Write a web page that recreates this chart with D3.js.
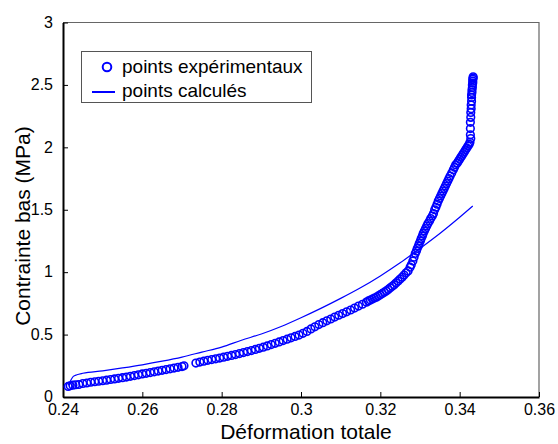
<!DOCTYPE html>
<html><head><meta charset="utf-8">
<script src="https://cdn.jsdelivr.net/npm/d3@7"></script>
<style>body{margin:0;background:#fff}svg{display:block}text{font-family:"Liberation Sans",Arial,sans-serif}</style>
</head><body>
<svg id="c" width="558" height="444"></svg>
<script>
// ---- data ----
const xTicks = [0.24, 0.26, 0.28, 0.30, 0.32, 0.34, 0.36];
const xTickLabels = ["0.24", "0.26", "0.28", "0.3", "0.32", "0.34", "0.36"];
const yTicks = [0, 0.5, 1, 1.5, 2, 2.5, 3];
const yTickLabels = ["0", "0.5", "1", "1.5", "2", "2.5", "3"];
const seriesNames = ["points expérimentaux", "points calculés"];
const xLabel = "Déformation totale";
const yLabel = "Contrainte bas (MPa)";

// experimental points (strain, stress)
const expX = [0.2413,0.2418,0.2425,0.2432,0.244,0.245,0.246,0.247,0.248,0.249,0.250,0.251,0.252,0.253,0.254,0.255,0.256,0.257,0.258,0.259,0.260,0.261,0.262,0.263,0.264,0.265,0.266,0.267,0.268,0.269,0.270,0.2705,
0.2735,0.2745,0.2755,0.2765,0.2775,0.2785,0.2795,0.2805,0.2815,0.2825,0.2835,0.2845,0.2855,0.2865,0.2875,0.2885,0.2895,0.2905,0.2915,0.2925,0.2935,0.2945,0.2955,0.2965,0.2975,0.2985,0.2995,
0.3005,0.3015,0.3025,0.3035,0.3045,0.3055,0.3065,0.3075,0.3085,0.3095,0.3105,0.3115,0.3125,0.3135,0.3145,0.3155,0.3165,0.3175,0.3185,0.3195,0.3205,0.3215,0.3225,0.3235,0.3245,0.3255,0.3265,0.3275,
0.3282,0.3288,0.3293,0.3298,0.3303,0.3308,0.3314,0.332,0.3327,0.3334,0.334,0.3346,0.3352,0.3358,0.3364,0.337,0.3376,0.3384,0.339,0.3397,0.3403,0.3409,0.3415,0.3421,0.3426,0.3428,
0.3427,0.3427,0.3427,0.3428,0.3428,0.3429,0.3429,0.343,0.343,0.343,0.3431,0.3431,0.3432,0.3432,0.3433,0.3433,0.3433,0.3434,0.3434,
0.317,0.318,0.319,0.320,0.321,0.322,0.323,0.324,0.325,0.326,
0.3270,0.3278,0.3285,0.3291,0.3296,0.3301,0.3306,0.3311,0.3317,0.3324,0.3331,0.3337,0.3343,0.3349,0.3355,0.3361,0.3367,0.3373,0.338,0.3387,0.3394,0.34,0.3406,0.3412,0.3418,0.3424];
const expY = [0.085,0.09,0.095,0.098,0.10,0.108,0.112,0.118,0.122,0.126,0.13,0.135,0.14,0.145,0.15,0.155,0.16,0.166,0.172,0.178,0.185,0.19,0.196,0.202,0.208,0.214,0.22,0.226,0.232,0.238,0.244,0.25,
0.272,0.28,0.287,0.294,0.30,0.306,0.312,0.319,0.326,0.333,0.34,0.348,0.356,0.364,0.372,0.381,0.39,0.399,0.409,0.42,0.43,0.441,0.452,0.463,0.474,0.485,0.496,
0.51,0.525,0.545,0.562,0.58,0.595,0.61,0.625,0.64,0.655,0.668,0.682,0.697,0.712,0.728,0.743,0.76,0.777,0.793,0.81,0.83,0.85,0.875,0.90,0.93,0.96,0.995,1.04,
1.09,1.15,1.19,1.23,1.27,1.31,1.35,1.39,1.43,1.47,1.52,1.57,1.61,1.65,1.69,1.73,1.77,1.82,1.86,1.89,1.92,1.95,1.98,2.01,2.04,2.07,
2.10,2.15,2.20,2.24,2.28,2.31,2.34,2.37,2.40,2.42,2.44,2.46,2.48,2.50,2.515,2.53,2.545,2.555,2.565,
0.77,0.785,0.80,0.82,0.84,0.862,0.887,0.915,0.945,0.977,
1.01,1.06,1.12,1.17,1.21,1.25,1.29,1.33,1.37,1.41,1.45,1.50,1.545,1.59,1.63,1.67,1.71,1.75,1.795,1.84,1.875,1.905,1.935,1.965,1.995,2.025];

// calculated curve
const calcX = [0.2413,0.2419,0.2426,0.2435,0.245,0.25,0.255,0.26,0.265,0.27,0.275,0.28,0.285,0.29,0.295,0.30,0.305,0.31,0.315,0.32,0.325,0.33,0.335,0.34,0.3433];
const calcY = [0.095,0.13,0.165,0.178,0.19,0.21,0.233,0.258,0.287,0.32,0.36,0.40,0.455,0.505,0.565,0.635,0.71,0.79,0.875,0.97,1.075,1.19,1.31,1.44,1.53];

// ---- chart ----
const svg = d3.select("#c");
const L = 63, R = 539, T = 22.5, B = 397;
const x = d3.scaleLinear().domain([0.24, 0.36]).range([L, R]);
const y = d3.scaleLinear().domain([0, 3]).range([B, T]);
const blue = "#0000ff";

// top/right box
svg.append("path").attr("d", `M${L},${T}H${R}V${B}`).attr("fill","none").attr("stroke","#666").attr("stroke-width",1.2);

// axes
const xAxis = d3.axisBottom(x).tickValues(xTicks).tickFormat((d,i)=>xTickLabels[i]).tickSizeInner(-5).tickSizeOuter(0).tickPadding(7);
const yAxis = d3.axisLeft(y).tickValues(yTicks).tickFormat((d,i)=>yTickLabels[i]).tickSizeInner(-5).tickSizeOuter(0).tickPadding(10);
const gx = svg.append("g").attr("transform", `translate(0,${B})`).call(xAxis);
const gy = svg.append("g").attr("transform", `translate(${L},0)`).call(yAxis);
[gx, gy].forEach(g => {
  g.select(".domain").attr("stroke","#000").attr("stroke-width",2);
  g.selectAll(".tick line").attr("stroke","#000").attr("stroke-width",1);
  g.selectAll(".tick text").attr("font-size",16).attr("fill","#000").attr("font-family","Liberation Sans, Arial, sans-serif");
});
gy.selectAll(".tick text").attr("dy","0.3em");

// calculated line
const calc = calcX.map((v,i)=>[v, calcY[i]]);
svg.append("path").datum(calc)
  .attr("d", d3.line().curve(d3.curveMonotoneX).x(d=>x(d[0])).y(d=>y(d[1])))
  .attr("fill","none").attr("stroke",blue).attr("stroke-width",1.2);

// experimental points
const exp = expX.map((v,i)=>[v, expY[i]]);
svg.append("g").selectAll("circle").data(exp).join("circle")
  .attr("cx", d=>x(d[0])).attr("cy", d=>y(d[1])).attr("r", 3.8)
  .attr("fill","none").attr("stroke",blue).attr("stroke-width",1.6);

// axis labels
svg.append("text").attr("x", 306).attr("y", 439).attr("text-anchor","middle").attr("font-size",21).text(xLabel);
svg.append("text").attr("transform","translate(30,226) rotate(-90)").attr("text-anchor","middle").attr("font-size",21).text(yLabel);

// legend
const lg = svg.append("g");
lg.append("rect").attr("x",81.5).attr("y",51.5).attr("width",230).attr("height",51).attr("fill","#fff").attr("stroke","#555").attr("stroke-width",1);
lg.append("circle").attr("cx",107).attr("cy",67).attr("r",4.3).attr("fill","none").attr("stroke",blue).attr("stroke-width",2);
lg.append("line").attr("x1",92).attr("x2",115).attr("y1",92).attr("y2",92).attr("stroke",blue).attr("stroke-width",2);
lg.append("text").attr("x",122).attr("y",73).attr("font-size",19).text(seriesNames[0]);
lg.append("text").attr("x",122).attr("y",97).attr("font-size",19).text(seriesNames[1]);
</script>
</body></html>
